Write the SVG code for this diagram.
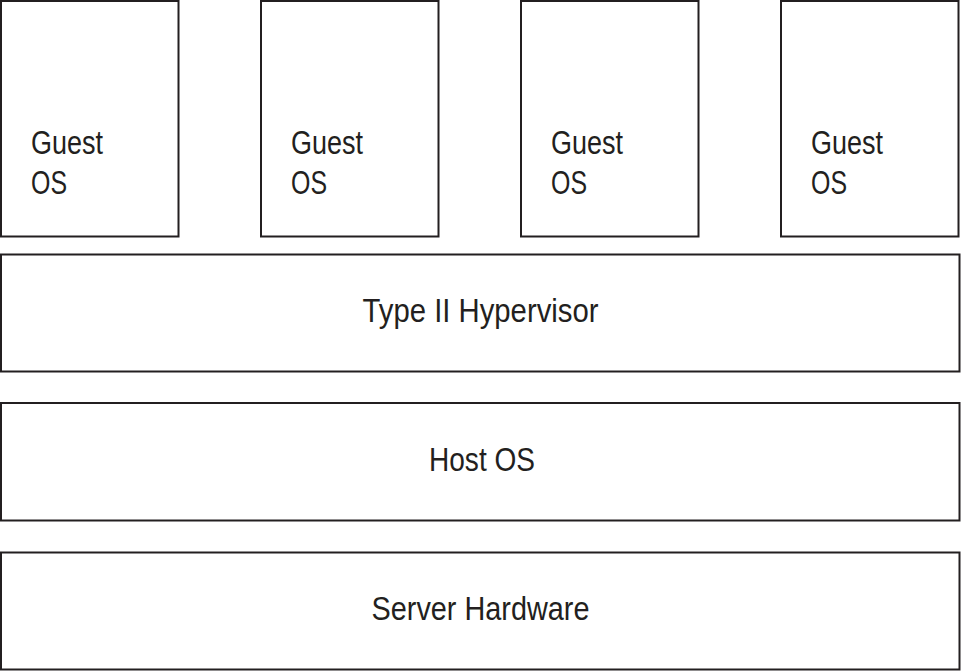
<svg xmlns="http://www.w3.org/2000/svg" width="961" height="671" viewBox="0 0 961 671">
<style>
.box{fill:#fff;stroke:#231f20;stroke-width:2}
.t{font-family:"Liberation Sans",Arial,sans-serif;font-size:33px;fill:#231f20}
</style>
<rect width="961" height="671" fill="#fff"/>
<g id="guest1"><rect class="box" x="1" y="1" width="177.5" height="235.5"/><text class="t" x="31" y="153.5" textLength="72" lengthAdjust="spacingAndGlyphs">Guest</text><text class="t" x="31" y="194" textLength="36" lengthAdjust="spacingAndGlyphs">OS</text></g>
<g id="guest2"><rect class="box" x="261" y="1" width="177.5" height="235.5"/><text class="t" x="291" y="153.5" textLength="72" lengthAdjust="spacingAndGlyphs">Guest</text><text class="t" x="291" y="194" textLength="36" lengthAdjust="spacingAndGlyphs">OS</text></g>
<g id="guest3"><rect class="box" x="521" y="1" width="177.5" height="235.5"/><text class="t" x="551" y="153.5" textLength="72" lengthAdjust="spacingAndGlyphs">Guest</text><text class="t" x="551" y="194" textLength="36" lengthAdjust="spacingAndGlyphs">OS</text></g>
<g id="guest4"><rect class="box" x="781" y="1" width="177.5" height="235.5"/><text class="t" x="811" y="153.5" textLength="72" lengthAdjust="spacingAndGlyphs">Guest</text><text class="t" x="811" y="194" textLength="36" lengthAdjust="spacingAndGlyphs">OS</text></g>
<g id="hypervisor"><rect class="box" x="1" y="254.5" width="958.5" height="117"/><text class="t" x="362.5" y="322" textLength="236" lengthAdjust="spacingAndGlyphs">Type II Hypervisor</text></g>
<g id="hostos"><rect class="box" x="1" y="403" width="958.5" height="117.5"/><text class="t" x="429" y="471" textLength="106" lengthAdjust="spacingAndGlyphs">Host OS</text></g>
<g id="hardware"><rect class="box" x="1" y="552.5" width="958.5" height="117"/><text class="t" x="371.5" y="620" textLength="218" lengthAdjust="spacingAndGlyphs">Server Hardware</text></g>
<g id="connectors"></g>
</svg>
